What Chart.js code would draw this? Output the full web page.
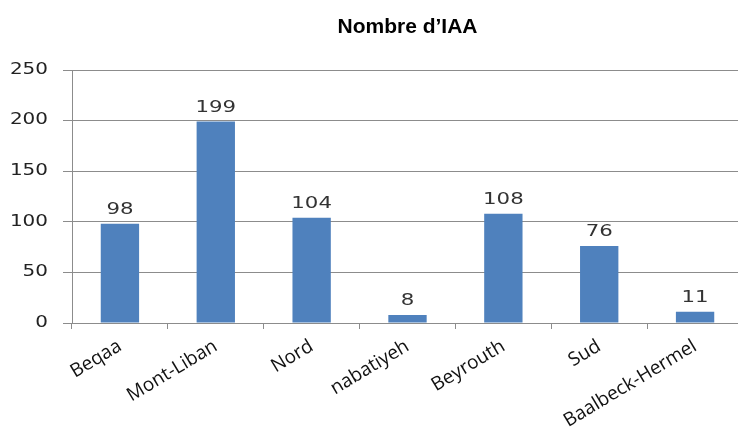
<!DOCTYPE html>
<html>
<head>
<meta charset="utf-8">
<script src="https://cdn.jsdelivr.net/npm/chart.js@4.4.0/dist/chart.umd.min.js"></script>
<style>
  html, body { margin: 0; padding: 0; background: #fff; overflow: hidden; }
  #wrap { width: 746px; height: 430px; }
</style>
</head>
<body>
<div id="wrap"><canvas id="chart"></canvas></div>
<script>
// ── Data ────────────────────────────────────────────
const chartTitle = 'Nombre d\u2019IAA';
const regions = ['Beqaa', 'Mont-Liban', 'Nord', 'nabatiyeh', 'Beyrouth', 'Sud', 'Baalbeck-Hermel'];
const counts = [98, 199, 104, 8, 108, 76, 11];
const yTicks = [0, 50, 100, 150, 200, 250];

// the source chart uses a wide, stretched face for numbers
const STRETCH = 1.33;

function drawWide(ctx, text, x, y) {
  ctx.save();
  ctx.translate(x, y);
  ctx.scale(STRETCH, 1);
  ctx.fillText(text, 0, 0);
  ctx.restore();
}

// ── Title, value labels, y tick labels ──────────────
const extraText = {
  id: 'extraText',
  afterDatasetsDraw(chart) {
    const ctx = chart.ctx;
    const area = chart.chartArea;
    const meta = chart.getDatasetMeta(0);
    const yScale = chart.scales.y;
    ctx.save();

    // title is centred over the plot area, not the canvas
    ctx.font = 'bold 21px "Liberation Sans"';
    ctx.fillStyle = '#000';
    ctx.textAlign = 'center';
    ctx.textBaseline = 'middle';
    ctx.fillText(chartTitle, (area.left + area.right) / 2, 27);

    ctx.font = '16px "DejaVu Sans"';
    ctx.fillStyle = '#333';
    ctx.textBaseline = 'alphabetic';
    meta.data.forEach((bar, i) => {
      drawWide(ctx, String(counts[i]), bar.x, bar.y - 10);
    });

    ctx.font = '15px "DejaVu Sans"';
    ctx.fillStyle = '#222';
    ctx.textAlign = 'right';
    ctx.textBaseline = 'middle';
    yTicks.forEach((v) => {
      drawWide(ctx, String(v), area.left - 24, yScale.getPixelForValue(v));
    });
    ctx.restore();
  },
};

new Chart(document.getElementById('chart'), {
  type: 'bar',
  data: {
    labels: regions,
    datasets: [{
      data: counts,
      backgroundColor: '#4F81BD',
      barPercentage: 0.4,
      categoryPercentage: 1.0,
    }],
  },
  options: {
    responsive: true,
    maintainAspectRatio: false,
    animation: false,
    layout: { padding: { top: 70, left: 0, right: 3, bottom: 0 } },
    plugins: {
      legend: { display: false },
      tooltip: { enabled: false },
      title: { display: false },
    },
    scales: {
      x: {
        afterFit: (scale) => { scale.height = 107; },
        grid: {
          offset: true,
          drawOnChartArea: false,
          drawTicks: true,
          tickLength: 6,
          color: '#8c8c8c',
        },
        border: { color: '#8c8c8c' },
        ticks: {
          maxRotation: 31,
          minRotation: 31,
          autoSkip: false,
          color: '#111',
          padding: 6,
          font: { family: '"Open Sans"', size: 19 },
        },
      },
      y: {
        min: 0,
        max: 250,
        afterFit: (scale) => { scale.width = 72; },
        afterBuildTicks: (axis) => { axis.ticks = yTicks.map((v) => ({ value: v })); },
        grid: { color: '#8c8c8c', tickLength: 9 },
        border: { color: '#8c8c8c' },
        ticks: { display: false },
      },
    },
  },
  plugins: [extraText],
});
</script>
</body>
</html>
